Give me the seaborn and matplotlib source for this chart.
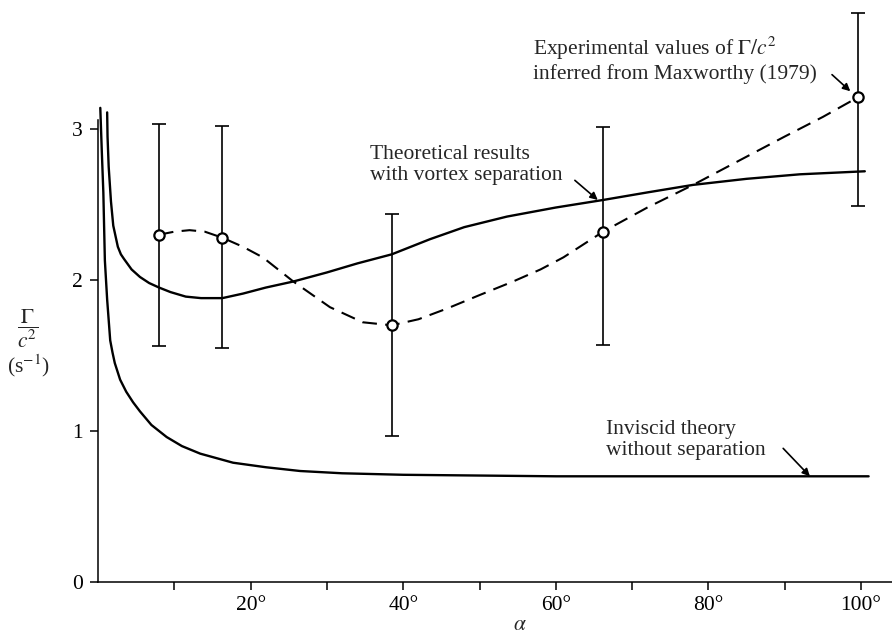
import numpy as np
import pandas as pd
import matplotlib
matplotlib.use("Agg")
import matplotlib.pyplot as plt
import seaborn as sns

# experimental points (Maxworthy 1979) with error bars
exp_alpha = [8.0, 16.3, 38.5, 66.2, 99.6]
exp_val = [2.30, 2.28, 1.70, 2.32, 3.21]
exp_lo = [1.56, 1.55, 0.97, 1.57, 2.49]
exp_hi = [3.03, 3.02, 2.44, 3.01, 3.77]

# dashed curve through experimental points
dash_alpha = [8, 10, 12, 14, 16.3, 19, 21.6, 25.6, 30.4, 34.7, 38.5, 42, 45.7,
              50, 54.4, 58, 61, 66.2, 72, 78, 84, 90, 95, 99.6]
dash_val = [2.30, 2.32, 2.33, 2.32, 2.28, 2.22, 2.15, 1.99, 1.82, 1.72, 1.70, 1.74,
            1.81, 1.90, 1.99, 2.07, 2.15, 2.32, 2.48, 2.63, 2.79, 2.95, 3.08, 3.21]

# theoretical results with vortex separation
vort_alpha = [1.2, 1.25, 1.4, 1.7, 2.0, 2.6, 3.0, 3.4, 4.4, 5.5, 6.7, 8.0, 9.5, 11.5,
              13.5, 16.3, 19, 22, 25.6, 30, 34, 38.5, 41, 43.5, 48, 53.6, 60, 66.2,
              72, 78, 85, 92, 100.5]
vort_val = [3.11, 2.95, 2.75, 2.52, 2.36, 2.22, 2.17, 2.14, 2.07, 2.02, 1.98, 1.95,
            1.92, 1.89, 1.88, 1.88, 1.91, 1.95, 1.99, 2.05, 2.11, 2.17, 2.22, 2.27,
            2.35, 2.42, 2.48, 2.53, 2.58, 2.63, 2.67, 2.70, 2.72]

# inviscid theory without separation
inv_alpha = [0.3, 0.5, 0.7, 0.9, 1.2, 1.6, 1.9, 2.2, 2.9, 3.7, 4.6, 5.5, 7, 9, 11,
             13.4, 17.7, 22, 26.5, 32, 40, 50, 60, 75, 90, 101]
inv_val = [3.14, 2.85, 2.58, 2.13, 1.87, 1.60, 1.52, 1.45, 1.34, 1.26, 1.19, 1.13,
           1.04, 0.96, 0.90, 0.85, 0.79, 0.76, 0.735, 0.72, 0.71, 0.705, 0.70, 0.70,
           0.70, 0.70]

x_major = [20, 40, 60, 80, 100]
x_minor = [10, 30, 50, 70, 90]
x_labels = ["20°", "40°", "60°", "80°", "100°"]
y_ticks = [0, 1, 2, 3]

sns.set_theme(style="white")
plt.rcParams["font.family"] = ["Liberation Serif", "DejaVu Serif"]
plt.rcParams["mathtext.fontset"] = "stix"

FS = 15.5
fig = plt.figure(figsize=(8.92, 6.38), dpi=100)
ax = fig.add_axes([98 / 892, 56 / 638, 794 / 892, 582 / 638])
ax.set_xlim(0, 794 / 7.63)
ax.set_ylim(0, 582 / 151)

sns.lineplot(x=inv_alpha, y=inv_val, ax=ax, color="black", lw=1.7,
             sort=False, estimator=None)
sns.lineplot(x=vort_alpha, y=vort_val, ax=ax, color="black", lw=1.7,
             sort=False, estimator=None)
sns.lineplot(x=dash_alpha, y=dash_val, ax=ax, color="black", lw=1.5,
             sort=False, estimator=None, linestyle=(0, (7, 4)))

err = [np.subtract(exp_val, exp_lo), np.subtract(exp_hi, exp_val)]
ax.errorbar(exp_alpha, exp_val, yerr=err, fmt="none", ecolor="black",
            elinewidth=1.2, capsize=5, capthick=1.2, clip_on=False, zorder=3)
sns.scatterplot(x=exp_alpha, y=exp_val, ax=ax, s=55, facecolor="white",
                edgecolor="black", linewidth=1.6, zorder=5, clip_on=False)

# axes styling
for side in ["top", "right"]:
    ax.spines[side].set_visible(False)
ax.spines["left"].set_bounds(0, 3.06)
for side in ["left", "bottom"]:
    ax.spines[side].set_linewidth(1.1)
    ax.spines[side].set_color("black")
ax.set_xticks(x_major)
ax.set_xticklabels(x_labels, fontsize=FS)
ax.set_xticks(x_minor, minor=True)
ax.set_yticks(y_ticks)
ax.set_yticklabels([str(v) for v in y_ticks], fontsize=FS)
ax.tick_params(axis="both", which="both", direction="out", length=6, width=1.1,
               color="black", labelcolor="black", bottom=True, left=True)
ax.tick_params(axis="x", which="major", pad=4)
ax.tick_params(axis="y", which="major", pad=5)
ax.grid(False)

ax.set_xlabel(r"$\alpha$", fontsize=FS)
ax.xaxis.set_label_coords((520 - 98) / 794, -0.058)

fig.text(28 / 892, 1 - 329 / 638, r"$\dfrac{\Gamma}{c^{2}}$", fontsize=FS,
         ha="center", va="center")
fig.text(28 / 892, 1 - 366 / 638, r"(s$^{-1}$)", fontsize=FS,
         ha="center", va="center")

arrow = dict(arrowstyle="-|>", color="black", lw=1.2, mutation_scale=11,
             shrinkA=0, shrinkB=0)
ax.text(57.0, 3.46, "Experimental values of $\\Gamma/c^2$\ninferred from Maxworthy (1979)",
        fontsize=FS, ha="left", va="center", linespacing=1.15)
ax.annotate("", xy=(98.6, 3.25), xytext=(96.2, 3.36), arrowprops=arrow)

ax.text(35.6, 2.76, "Theoretical results\nwith vortex separation", fontsize=FS,
        ha="left", va="center", linespacing=1.15)
ax.annotate("", xy=(65.5, 2.53), xytext=(62.5, 2.66), arrowprops=arrow)

ax.text(66.6, 0.94, "Inviscid theory\nwithout separation", fontsize=FS,
        ha="left", va="center", linespacing=1.1)
ax.annotate("", xy=(93.3, 0.70), xytext=(89.8, 0.885), arrowprops=arrow)

fig.savefig("out.png", dpi=100)
